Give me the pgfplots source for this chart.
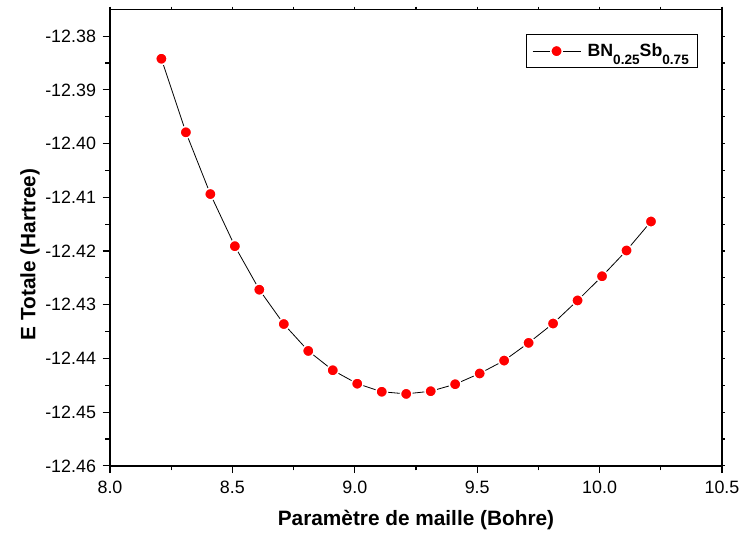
\documentclass[border=0pt]{standalone}
\usepackage{fontspec}
\setmainfont{Liberation Sans}
\usepackage{pgfplots}
\pgfplotsset{compat=1.18}

% Gesamtenergie gegen Gitterparameter
\pgfplotstableread{
a E
8.21  -12.3842
8.31  -12.3979
8.41  -12.4094
8.51  -12.4191
8.61  -12.4272
8.71  -12.4336
8.81  -12.4386
8.91  -12.4422
9.01  -12.4447
9.11  -12.4462
9.21  -12.4466
9.31  -12.4461
9.41  -12.4448
9.51  -12.4428
9.61  -12.4404
9.71  -12.4371
9.81  -12.4335
9.91  -12.4292
10.01 -12.4247
10.11 -12.4199
10.21 -12.4145
}\etot

\begin{document}
\begin{tikzpicture}
\pgfplotsset{
  base/.style={
    scale only axis, width=459pt, height=342.4pt,
    xmin=8.0, xmax=10.5, ymin=-12.46, ymax=-12.375,
    xtick={8.0,8.5,9.0,9.5,10.0,10.5},
    ytick={-12.46,-12.45,-12.44,-12.43,-12.42,-12.41,-12.40,-12.39,-12.38},
    minor x tick num=1, minor y tick num=1,
    tick align=outside,
    axis line style={line width=1.1pt},
    tick style={black, line width=0.9pt},
  }
}
\begin{axis}[base,
  xtick pos=bottom, ytick pos=left,
  major tick length=5.5pt, minor tick length=3.4pt,
  ticklabel style={font=\fontsize{13.4}{15}\selectfont},
  /pgf/number format/assume math mode=true,
  xticklabel style={yshift=-2pt, /pgf/number format/.cd, fixed, fixed zerofill, precision=1},
  yticklabel style={xshift=-1.5pt, /pgf/number format/.cd, fixed, fixed zerofill, precision=2},
  xlabel={Paramètre de maille (Bohre)},
  ylabel={E Totale (Hartree)},
  label style={font=\fontsize{15.6}{18}\selectfont\bfseries},
  xlabel style={at={(axis description cs:0.5,-0.1183)}, anchor=center},
  ylabel style={at={(axis description cs:-0.1307,0.463)}, anchor=center},
  legend style={at={(axis description cs:1,1)}, anchor=north east,
    xshift=-18pt, yshift=-18.4pt, draw=black, line width=0.75pt,
    inner xsep=4.5pt, inner ysep=5pt,
    font=\fontsize{13.3}{15}\selectfont\bfseries},
  legend cell align=left,
  legend image code/.code={
    \draw[mark repeat=2,mark phase=2] plot coordinates {(0pt,0pt) (18pt,0pt) (36pt,0pt)};
  },
]
\addplot[black, line width=0.6pt, mark=*, mark size=4.3pt,
  mark options={fill=red, draw=white, line width=1.1pt}] table[x=a, y=E] {\etot};
\addlegendentry{\hspace{3pt}BN\raisebox{-6pt}{\fontsize{10.2}{10}\selectfont 0.25}Sb\raisebox{-6pt}{\fontsize{10.2}{10}\selectfont 0.75}}
\coordinate (sw) at (rel axis cs:0,0);
\coordinate (ne) at (rel axis cs:1,1);
\end{axis}
\begin{axis}[base,
  xtick pos=top, ytick pos=right,
  xticklabels={}, yticklabels={},
  major tick length=2pt, minor tick length=2pt,
]
\end{axis}
\pgfresetboundingbox
\path ([xshift=-82.5pt,yshift=-54pt]sw) rectangle ([xshift=15.75pt,yshift=7pt]ne);
\end{tikzpicture}
\end{document}
